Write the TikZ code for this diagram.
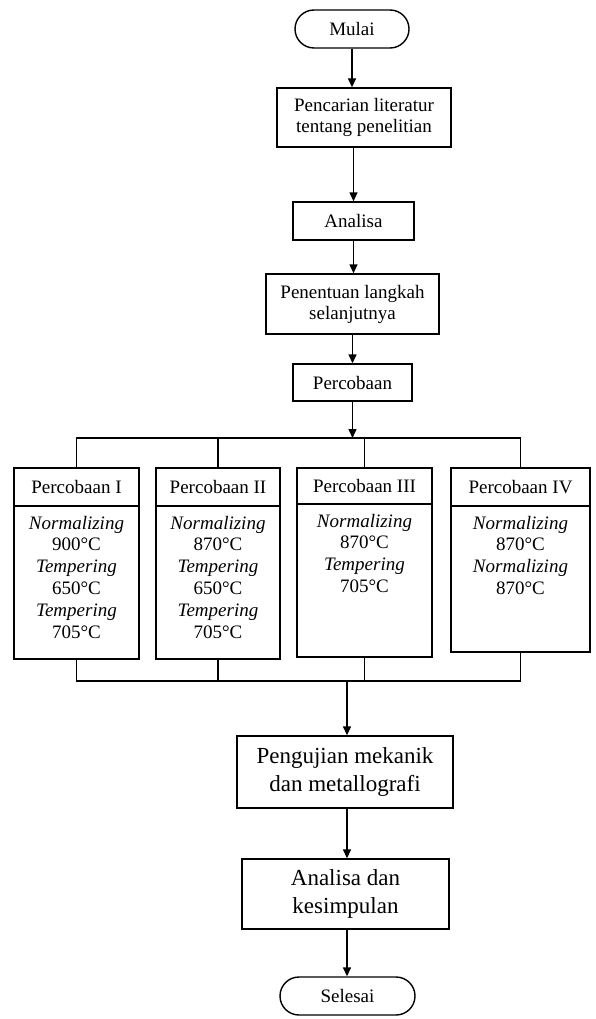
\documentclass[tikz,border=0pt]{standalone}
\usepackage{fontspec}
\setmainfont{Liberation Serif}
\usetikzlibrary{arrows.meta,positioning}

\begin{document}
\begin{tikzpicture}[x=1pt,y=-1pt,line width=1.4pt,>={Triangle[length=9pt,width=8pt]},
    box/.style={draw,rectangle,inner sep=0pt,align=center,font=\fontsize{19}{21}\selectfont},
    bigbox/.style={box,font=\fontsize{23}{28}\selectfont},
    term/.style={box,rounded corners=19pt},
    txt/.style={inner sep=0pt,align=center,font=\fontsize{19}{21.8}\selectfont}]
    \useasboundingbox (0,0) rectangle (595,1019);
    \node[term,   minimum width=114pt, minimum height=38pt] (mulai)   at (352.0,  29.0) {Mulai};
    \node[box,    minimum width=174pt, minimum height=59pt] (lit)     at (364.0, 117.5) {Pencarian literatur\\tentang penelitian};
    \node[box,    minimum width=121pt, minimum height=38pt] (ana)     at (353.5, 221.0) {Analisa};
    \node[box,    minimum width=173pt, minimum height=60pt] (lang)    at (352.5, 304.0) {Penentuan langkah\\selanjutnya};
    \node[box,    minimum width=119pt, minimum height=37pt] (coba)    at (352.5, 382.5) {Percobaan};
    \node[box,    minimum width=125pt, minimum height=38pt] (pI)      at ( 76.5, 487.0) {Percobaan I};
    \node[box,    minimum width=124pt, minimum height=38pt] (pII)     at (218.0, 487.0) {Percobaan II};
    \node[box,    minimum width=135pt, minimum height=36pt] (pIII)    at (364.5, 486.0) {Percobaan III};
    \node[box,    minimum width=139pt, minimum height=38pt] (pIV)     at (520.5, 487.0) {Percobaan IV};
    \node[box,    minimum width=125pt, minimum height=153pt] (bI)     at ( 76.5, 582.5) {};
    \node[box,    minimum width=124pt, minimum height=153pt] (bII)    at (218.0, 582.5) {};
    \node[box,    minimum width=135pt, minimum height=153pt] (bIII)   at (364.5, 580.5) {};
    \node[box,    minimum width=139pt, minimum height=146pt] (bIV)    at (520.5, 579.0) {};
    \node[txt, below=10pt of bI.north]   (tI)   {\textit{Normalizing}\\900°C\\\textit{Tempering}\\650°C\\\textit{Tempering}\\705°C};
    \node[txt, below=10pt of bII.north]  (tII)  {\textit{Normalizing}\\870°C\\\textit{Tempering}\\650°C\\\textit{Tempering}\\705°C};
    \node[txt, below=10pt of bIII.north] (tIII) {\textit{Normalizing}\\870°C\\\textit{Tempering}\\705°C};
    \node[txt, below=10pt of bIV.north]  (tIV)  {\textit{Normalizing}\\870°C\\\textit{Normalizing}\\870°C};
    \node[bigbox, minimum width=216pt, minimum height=72pt] (uji)     at (345.0, 772.0) {Pengujian mekanik\\dan metallografi};
    \node[bigbox, minimum width=207pt, minimum height=70pt] (kes)     at (345.5, 894.0) {Analisa dan\\kesimpulan};
    \node[term,   minimum width=135pt, minimum height=38pt] (selesai) at (347.5, 996.0) {Selesai};
    \coordinate (atas)  at (352.5, 438.0);
    \coordinate (bawah) at (347.0, 681.0);
    \draw[->] (mulai.south) -- (mulai.south |- lit.north);
    \draw[->] (ana |- lit.south) -- (ana.north);
    \draw[->] (ana.south) -- (ana.south |- lang.north);
    \draw[->] (lang.south) -- (lang.south |- coba.north);
    \draw[->] (coba.south) -- (atas);
    \draw (pI.north) |- (atas) -| (pIV.north);
    \draw (pII.north) |- (atas);
    \draw (pIII.north) |- (atas);
    \draw (bI.south) |- (bawah) -| (bIV.south);
    \draw (bII.south) |- (bawah);
    \draw (bIII.south) |- (bawah);
    \draw[->] (bawah) -- (bawah |- uji.north);
    \draw[->] (bawah |- uji.south) -- (bawah |- kes.north);
    \draw[->] (bawah |- kes.south) -- (bawah |- selesai.north);
\end{tikzpicture}
\end{document}
